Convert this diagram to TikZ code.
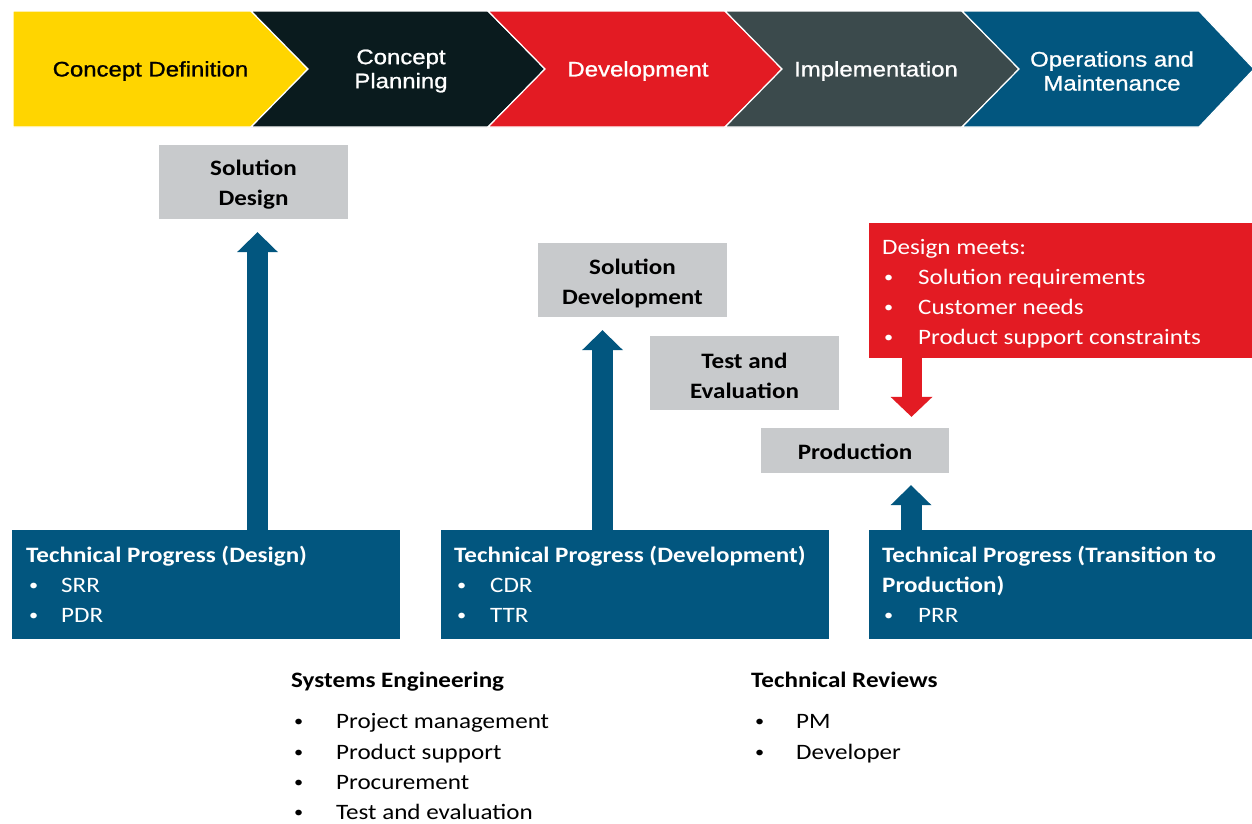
\documentclass[tikz,border=0pt]{standalone}
\usepackage{fontspec}
\setmainfont[FakeStretch=1.14]{Carlito}
\newfontfamily\chevfont[FakeStretch=1.14,FakeBold=1]{Liberation Sans}
\usetikzlibrary{arrows.meta}
\definecolor{cyellow}{HTML}{FFD500}
\definecolor{cdark}{HTML}{0A1B1E}
\definecolor{cred}{HTML}{E31B23}
\definecolor{cgrey}{HTML}{3B4A4C}
\definecolor{cblue}{HTML}{02567F}
\definecolor{clight}{HTML}{C8CACC}
\newcommand{\bul}[2]{\makebox[#1][l]{\hspace{1pt}\raisebox{1.5pt}{\fontsize{16}{16}\selectfont •}}#2}
\begin{document}
\begin{tikzpicture}[x=1pt,y=-1pt,
  chev/.style={draw=white,line width=1.2pt,line join=miter},
  chevtext/.style={font=\chevfont\fontsize{21}{24}\selectfont,align=center,inner sep=0pt},
  bluebox/.style={fill=cblue,anchor=north west,inner sep=0pt,minimum height=109pt},
  greybox/.style={fill=clight,inner sep=0pt,minimum width=189pt},
  gtext/.style={inner sep=0pt,font=\bfseries\fontsize{22}{30}\selectfont,align=center},
  txt/.style={anchor=base west,inner sep=0pt,font=\fontsize{22}{30}\selectfont},
  wtxt/.style={txt,text=white},
  uparrow/.style={draw=cblue,line width=21pt,-{Triangle[length=20pt,width=41pt,line width=0pt]}},
  downarrow/.style={draw=cred,line width=20pt,-{Triangle[length=20pt,width=42pt,line width=0pt]}}
]
\useasboundingbox (0,0) rectangle (1252,823);
\fill[white] (0,0) rectangle (1252,823);

% chevrons
\filldraw[fill=cyellow,chev] (13,11) -- (251,11) -- (308,69) -- (251,127) -- (13,127) -- cycle;
\filldraw[fill=cdark,chev] (251,11) -- (488,11) -- (545,69) -- (488,127) -- (251,127) -- (308,69) -- cycle;
\filldraw[fill=cred,chev] (488,11) -- (725,11) -- (782,69) -- (725,127) -- (488,127) -- (545,69) -- cycle;
\filldraw[fill=cgrey,chev] (725,11) -- (962,11) -- (1019,69) -- (962,127) -- (725,127) -- (782,69) -- cycle;
\filldraw[fill=cblue,chev] (962,11) -- (1199,11) -- (1254,69) -- (1199,127) -- (962,127) -- (1019,69) -- cycle;
\node[chevtext,text=black] (c1) at (150.5,71) {Concept Definition};
\node[chevtext,text=white] (c2) at (401,71) {Concept\\Planning};
\node[chevtext,text=white] (c3) at (638,71) {Development};
\node[chevtext,text=white] (c4) at (876,71) {Implementation};
\node[chevtext,text=white] (c5) at (1112,71) {Operations and\\Maintenance};

% grey boxes
\node[greybox,minimum height=74pt] (sd) at (253.5,182) {};
\node[gtext] (sdt) at ([yshift=-3pt]sd.center) {Solution\\Design};
\node[greybox,minimum height=74pt] (sdev) at (632.5,280) {};
\node[gtext] (sdevt) at ([yshift=-3pt]sdev.center) {Solution\\Development};
\node[greybox,minimum height=74pt] (te) at (744.5,373) {};
\node[gtext] (tet) at ([yshift=-3pt]te.center) {Test and\\Evaluation};
\node[greybox,minimum width=188pt,minimum height=45pt] (prod) at (855,450.5) {};
\node[gtext] (prodt) at ([yshift=-1pt]prod.center) {Production};

% red box
\node[fill=cred,anchor=north west,inner sep=0pt,minimum width=383pt,minimum height=135pt] (rb) at (869,223) {};
\node[wtxt] (r0) at (882,254) {Design meets:};
\node[wtxt] (r1) at (883,284) {\bul{35pt}{Solution requirements}};
\node[wtxt] (r2) at (883,314) {\bul{35pt}{Customer needs}};
\node[wtxt] (r3) at (883,344) {\bul{35pt}{Product support constraints}};

% blue boxes
\node[bluebox,minimum width=388pt] (tp1) at (12,530) {};
\node[bluebox,minimum width=388pt] (tp2) at (441,530) {};
\node[bluebox,minimum width=383pt] (tp3) at (869,530) {};
\node[wtxt,font=\bfseries\fontsize{22}{30}\selectfont] (t1a) at (26,562) {Technical Progress (Design)};
\node[wtxt] (t1b) at (28,592) {\bul{33pt}{SRR}};
\node[wtxt] (t1c) at (28,622) {\bul{33pt}{PDR}};
\node[wtxt,font=\bfseries\fontsize{22}{30}\selectfont] (t2a) at (454,562) {Technical Progress (Development)};
\node[wtxt] (t2b) at (456,592) {\bul{34pt}{CDR}};
\node[wtxt] (t2c) at (456,622) {\bul{34pt}{TTR}};
\node[wtxt,font=\bfseries\fontsize{22}{30}\selectfont] (t3a) at (882,562) {Technical Progress (Transition to};
\node[wtxt,font=\bfseries\fontsize{22}{30}\selectfont] (t3b) at (882,592) {Production)};
\node[wtxt] (t3c) at (883,622) {\bul{35pt}{PRR}};

% arrows
\coordinate (a1) at (257.5,530);
\coordinate (a2) at (602.5,530);
\coordinate (a3) at (911,530);
\coordinate (ar) at (911.5,358);
\draw[uparrow,shorten >=13pt] (a1) -- (a1 |- sd.south);
\draw[uparrow,shorten >=13pt] (a2) -- (a2 |- sdev.south);
\draw[uparrow,shorten >=12pt] (a3) -- (a3 |- prod.south);
\draw[downarrow,shorten >=11pt] (ar) -- (ar |- prod.north);

% bottom lists
\node[txt,font=\bfseries\fontsize{22}{30}\selectfont] (se) at (291,687) {Systems Engineering};
\node[txt] (se1) at (293,728) {\bul{43pt}{Project management}};
\node[txt] (se2) at (293,759) {\bul{43pt}{Product support}};
\node[txt] (se3) at (293,789) {\bul{43pt}{Procurement}};
\node[txt] (se4) at (293,819) {\bul{43pt}{Test and evaluation}};
\node[txt,font=\bfseries\fontsize{22}{30}\selectfont] (tr) at (751,687) {Technical Reviews};
\node[txt] (tr1) at (754,728) {\bul{42pt}{PM}};
\node[txt] (tr2) at (754,759) {\bul{42pt}{Developer}};
\end{tikzpicture}
\end{document}
